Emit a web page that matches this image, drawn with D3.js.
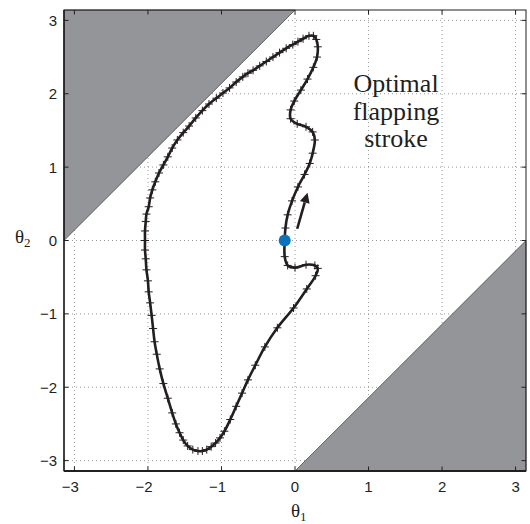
<!DOCTYPE html>
<html>
<head>
<meta charset="utf-8">
<script src="https://cdn.jsdelivr.net/npm/d3@7"></script>
<style>
  body { margin: 0; background: #fff; }
  svg { display: block; }
</style>
</head>
<body>
<div id="chart"></div>
<script>
// stroke loop (theta1, theta2), starting at the blue dot and going up
const theta1 = [
  -0.14, -0.13, -0.10, -0.04, 0.04, 0.13, 0.20, 0.24, 0.27, 0.24, 0.15, 0.03, -0.06, -0.06, -0.01,
  0.08, 0.17, 0.25, 0.30, 0.31, 0.29, 0.25, 0.19, 0.11, 0.04, -0.03, -0.12, -0.21, -0.30, -0.39,
  -0.48, -0.57, -0.64, -0.71, -0.80, -0.89, -0.98, -1.07, -1.17, -1.26, -1.35, -1.44, -1.52, -1.60,
  -1.67, -1.73, -1.79, -1.85, -1.90, -1.94, -1.97, -1.99, -2.02, -2.03, -2.04, -2.04, -2.04, -2.03,
  -2.02, -2.00, -1.99, -1.97, -1.95, -1.93, -1.91, -1.88, -1.84, -1.79, -1.73, -1.67, -1.62, -1.57,
  -1.52, -1.46, -1.39, -1.32, -1.26, -1.20, -1.14, -1.08, -1.02, -0.96, -0.88, -0.80, -0.72, -0.64,
  -0.54, -0.41, -0.24, -0.02, 0.16, 0.28, 0.31, 0.27, 0.15, 0.00, -0.10, -0.14
];
const theta2 = [
  0.00, 0.17, 0.35, 0.54, 0.73, 0.90, 1.05, 1.19, 1.37, 1.48, 1.55, 1.59, 1.66, 1.78, 1.90,
  2.05, 2.20, 2.36, 2.50, 2.64, 2.74, 2.79, 2.79, 2.75, 2.71, 2.67, 2.62, 2.56, 2.50, 2.44,
  2.38, 2.32, 2.28, 2.23, 2.16, 2.08, 2.01, 1.94, 1.86, 1.77, 1.67, 1.56, 1.47, 1.37,
  1.26, 1.14, 1.03, 0.92, 0.80, 0.69, 0.58, 0.46, 0.36, 0.26, 0.13, 0.00, -0.13, -0.25,
  -0.40, -0.55, -0.70, -0.85, -1.02, -1.20, -1.38, -1.55, -1.75, -1.95, -2.15, -2.35, -2.50, -2.62,
  -2.72, -2.80, -2.85, -2.87, -2.87, -2.85, -2.81, -2.76, -2.69, -2.60, -2.44, -2.26, -2.08, -1.90,
  -1.70, -1.45, -1.19, -0.92, -0.66, -0.48, -0.38, -0.34, -0.33, -0.37, -0.34, -0.22
];
const ticks = [-3, -2, -1, 0, 1, 2, 3];
const startPoint = [-0.14, 0];
const arrowFrom = [0.03, 0.16];
const arrowTo = [0.17, 0.65];
const annotation = ["Optimal", "flapping", "stroke"];

const width = 530, height = 524;
const margin = { top: 10, right: 4, bottom: 53, left: 64 };

const svg = d3.select("#chart").append("svg")
  .attr("width", width)
  .attr("height", height);

const x = d3.scaleLinear().domain([-Math.PI, Math.PI]).range([margin.left, width - margin.right]);
const y = d3.scaleLinear().domain([-Math.PI, Math.PI]).range([height - margin.bottom, margin.top]);

const x0 = x.range()[0], x1 = x.range()[1];
const y0 = y.range()[1], y1 = y.range()[0];

// grid
const grid = svg.append("g")
  .attr("stroke", "#9a9a9a")
  .attr("stroke-width", 1)
  .attr("stroke-dasharray", "1,3");
grid.selectAll(".gx").data(ticks).enter().append("line")
  .attr("x1", d => x(d)).attr("x2", d => x(d))
  .attr("y1", y0).attr("y2", y1);
grid.selectAll(".gy").data(ticks).enter().append("line")
  .attr("y1", d => y(d)).attr("y2", d => y(d))
  .attr("x1", x0).attr("x2", x1);

// forbidden regions |theta1 - theta2| > pi
const regions = [
  [[-Math.PI, Math.PI], [0, Math.PI], [-Math.PI, 0]],
  [[0, -Math.PI], [Math.PI, -Math.PI], [Math.PI, 0]]
];
svg.selectAll(".region").data(regions).enter().append("path")
  .attr("d", d => "M" + d.map(p => [x(p[0]), y(p[1])].join(",")).join("L") + "Z")
  .attr("fill", "#939598")
  .attr("stroke", "#231f20")
  .attr("stroke-width", 0.6);

// axes box + inner ticks
const axisCol = "#231f20";
svg.append("rect")
  .attr("x", x0).attr("y", y0)
  .attr("width", x1 - x0).attr("height", y1 - y0)
  .attr("fill", "none").attr("stroke", axisCol).attr("stroke-width", 1);
svg.append("line").attr("x1", x0).attr("x2", x1).attr("y1", y1).attr("y2", y1)
  .attr("stroke", axisCol).attr("stroke-width", 1.8);
svg.append("line").attr("x1", x0).attr("x2", x0).attr("y1", y0).attr("y2", y1)
  .attr("stroke", axisCol).attr("stroke-width", 1.4);

const tl = 4.5;
const tk = svg.append("g").attr("stroke", axisCol).attr("stroke-width", 1);
ticks.forEach(t => {
  tk.append("line").attr("x1", x(t)).attr("x2", x(t)).attr("y1", y1).attr("y2", y1 - tl);
  tk.append("line").attr("x1", x(t)).attr("x2", x(t)).attr("y1", y0).attr("y2", y0 + tl);
  tk.append("line").attr("y1", y(t)).attr("y2", y(t)).attr("x1", x0).attr("x2", x0 + tl);
  tk.append("line").attr("y1", y(t)).attr("y2", y(t)).attr("x1", x1).attr("x2", x1 - tl);
});

const fmt = d => (d < 0 ? "\u2212" + Math.abs(d) : String(d));
svg.append("g").selectAll("text").data(ticks).enter().append("text")
  .attr("x", d => x(d) - (d < 0 ? 4 : 0))
  .attr("y", y1 + 21)
  .attr("text-anchor", "middle")
  .style("font-family", "'Liberation Sans', Arial, sans-serif")
  .style("font-size", "15px")
  .attr("fill", "#231f20")
  .text(fmt);
svg.append("g").selectAll("text").data(ticks).enter().append("text")
  .attr("x", x0 - 7)
  .attr("y", d => y(d) + 5.5)
  .attr("text-anchor", "end")
  .style("font-family", "'Liberation Sans', Arial, sans-serif")
  .style("font-size", "15px")
  .attr("fill", "#231f20")
  .text(fmt);

// axis labels
const serif = "'Liberation Serif', 'Times New Roman', serif";
const xl = svg.append("text")
  .attr("x", x(0) - 4).attr("y", 517)
  .style("font-family", serif).style("font-size", "19px").attr("fill", "#231f20");
xl.append("tspan").text("\u03b8");
xl.append("tspan").attr("dy", 4).style("font-size", "13px").text("1");
const yl = svg.append("text")
  .attr("x", 15).attr("y", 243)
  .style("font-family", serif).style("font-size", "19px").attr("fill", "#231f20");
yl.append("tspan").text("\u03b8");
yl.append("tspan").attr("dy", 4).style("font-size", "13px").text("2");

// the stroke loop
const pts = theta1.map((t, i) => [t, theta2[i]]);
const line = d3.line()
  .x(d => x(d[0]))
  .y(d => y(d[1]))
  .curve(d3.curveCatmullRomClosed.alpha(0.5));
svg.append("path")
  .datum(pts)
  .attr("d", line)
  .attr("fill", "none")
  .attr("stroke", "#231f20")
  .attr("stroke-width", 2.6)
  .attr("stroke-linejoin", "round");

const ms = 4;
svg.append("g").selectAll("path").data(pts).enter().append("path")
  .attr("d", d => {
    const px = x(d[0]), py = y(d[1]);
    return `M${px - ms},${py}H${px + ms}M${px},${py - ms}V${py + ms}`;
  })
  .attr("stroke", "#231f20")
  .attr("stroke-width", 1);

// direction arrow
const ax0 = x(arrowFrom[0]), ay0 = y(arrowFrom[1]);
const ax1 = x(arrowTo[0]), ay1 = y(arrowTo[1]);
const ang = Math.atan2(ay1 - ay0, ax1 - ax0);
const hl = 10, hw = 5;
const bx = ax1 - hl * Math.cos(ang), by = ay1 - hl * Math.sin(ang);
svg.append("line")
  .attr("x1", ax0).attr("y1", ay0).attr("x2", bx).attr("y2", by)
  .attr("stroke", "#231f20").attr("stroke-width", 2.6);
svg.append("path")
  .attr("d", `M${ax1},${ay1}L${bx - hw * Math.sin(ang)},${by + hw * Math.cos(ang)}L${bx + hw * Math.sin(ang)},${by - hw * Math.cos(ang)}Z`)
  .attr("fill", "#231f20");

// start point
svg.append("circle")
  .attr("cx", x(startPoint[0])).attr("cy", y(startPoint[1]))
  .attr("r", 6)
  .attr("fill", "#0b72bd");

// annotation
svg.append("g").selectAll("text").data(annotation).enter().append("text")
  .attr("x", 396)
  .attr("y", (d, i) => 92 + i * 27.5)
  .attr("text-anchor", "middle")
  .style("font-family", serif)
  .style("font-size", "26px")
  .attr("fill", "#231f20")
  .text(d => d);
</script>
</body>
</html>
